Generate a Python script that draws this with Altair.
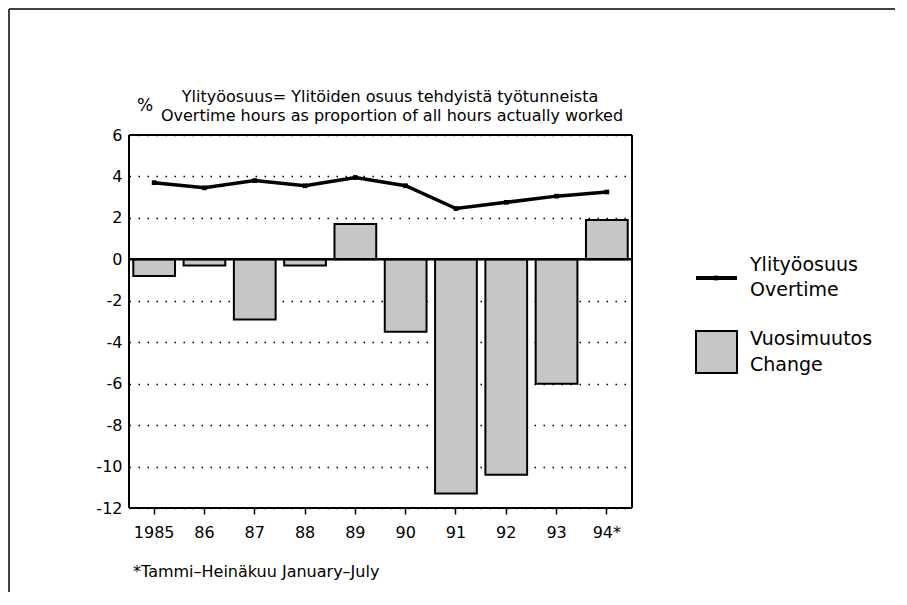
import altair as alt
import pandas as pd

years = ["1985", "86", "87", "88", "89", "90", "91", "92", "93", "94*"]
overtime = [3.7, 3.45, 3.8, 3.55, 3.95, 3.55, 2.45, 2.75, 3.05, 3.25]
change = [-0.8, -0.3, -2.9, -0.3, 1.7, -3.5, -11.3, -10.4, -6.0, 1.9]
y_ticks = [-12, -10, -8, -6, -4, -2, 0, 2, 4, 6]

title_fi = "Ylityöosuus= Ylitöiden osuus tehdyistä työtunneista"
title_en = "Overtime hours as proportion of all hours actually worked"
legend_line = ["Ylityöosuus", "Overtime"]
legend_bar = ["Vuosimuutos", "Change"]
footnote = "*Tammi\u2013Heinäkuu January\u2013July"

FONT = "DejaVu Sans"
GRAY = "#c6c6c6"
W, H = 503, 373

df = pd.DataFrame({"year": years, "overtime": overtime, "change": change})

xenc = alt.X("year:N", sort=years, title=None,
             scale=alt.Scale(paddingInner=0.17, paddingOuter=0.085),
             axis=alt.Axis(labelAngle=0, ticks=True, tickSize=6, tickWidth=1.5,
                           tickColor="black", domain=False, grid=False,
                           labelFont=FONT, labelFontSize=16, labelColor="black",
                           labelPadding=10))
yscale = alt.Scale(domain=[-12, 6], nice=False, zero=False)
yaxis = alt.Axis(values=y_ticks, grid=True, gridDash=[1.5, 7.5], gridColor="black",
                 gridWidth=1.5, ticks=False, domain=False, labelFont=FONT,
                 labelFontSize=16, labelColor="black", labelPadding=7, title=None,
                 labelExpr="'' + datum.value")

bars = alt.Chart(df).mark_bar(fill=GRAY, stroke="black", strokeWidth=2).encode(
    x=xenc,
    y=alt.Y("change:Q", scale=yscale, axis=yaxis),
)

one = alt.Data(values=[{}])

zero = alt.Chart(one).mark_rule(color="black", strokeWidth=2.5).encode(y=alt.datum(0))

# plot frame drawn as rules
frame_t = alt.Chart(one).mark_rule(color="black", strokeWidth=2).encode(
    x=alt.value(0), x2=alt.value(W), y=alt.value(0))
frame_r = alt.Chart(one).mark_rule(color="black", strokeWidth=2).encode(
    x=alt.value(W), y=alt.value(0), y2=alt.value(H))
frame_b = alt.Chart(one).mark_rule(color="black", strokeWidth=2).encode(
    x=alt.value(0), x2=alt.value(W), y=alt.value(H))
frame_l = alt.Chart(one).mark_rule(color="black", strokeWidth=2).encode(
    x=alt.value(0), y=alt.value(0), y2=alt.value(H))

line = alt.Chart(df).mark_line(color="black", strokeWidth=3.5).encode(
    x=alt.X("year:N", sort=years), y=alt.Y("overtime:Q", scale=yscale))
pts = alt.Chart(df).mark_point(shape="square", filled=True, color="black", size=22, opacity=1).encode(
    x=alt.X("year:N", sort=years), y=alt.Y("overtime:Q", scale=yscale))


def txt(text, x, y, size, align="left", baseline="middle"):
    return alt.Chart(one).mark_text(text=text, font=FONT, fontSize=size, align=align,
                                    baseline=baseline, color="black").encode(
        x=alt.value(x), y=alt.value(y))


texts = [
    txt(title_fi, 261, -33, 16, align="center", baseline="alphabetic"),
    txt(title_en, 263, -14, 16, align="center", baseline="alphabetic"),
    txt("%", 16, -24, 17, align="center", baseline="alphabetic"),
    txt(legend_line[0], 621, 130, 19),
    txt(legend_line[1], 621, 155, 19),
    txt(legend_bar[0], 621, 204, 19),
    txt(legend_bar[1], 621, 230, 19),
    txt(footnote, 4, 437, 16),
]

leg_line = alt.Chart(one).mark_rule(color="black", strokeWidth=4).encode(
    x=alt.value(567), x2=alt.value(608), y=alt.value(143))
leg_dot = alt.Chart(one).mark_point(shape="square", filled=True, color="black", size=22, opacity=1).encode(
    x=alt.value(587), y=alt.value(143))
leg_rect = alt.Chart(one).mark_rect(fill=GRAY, stroke="black", strokeWidth=2).encode(
    x=alt.value(567), x2=alt.value(608), y=alt.value(196), y2=alt.value(238))

# outer page frame (top and left edges only)
frame_top = alt.Chart(one).mark_rule(color="black", strokeWidth=1.5).encode(
    x=alt.value(-120), x2=alt.value(766), y=alt.value(-126))
frame_left = alt.Chart(one).mark_rule(color="black", strokeWidth=1.5).encode(
    x=alt.value(-120), y=alt.value(-126), y2=alt.value(460))

chart = alt.layer(
    bars, zero, line, pts, frame_t, frame_r, frame_b, frame_l,
    leg_line, leg_dot, leg_rect, frame_top, frame_left, *texts
).properties(
    width=W, height=H,
    autosize=alt.AutoSizeParams(type="none"),
    padding={"left": 121, "top": 127, "right": 266, "bottom": 84},
).configure(
    background="white"
).configure_view(
    strokeWidth=0
)

chart.save("out.html", embed_options={"renderer": "svg", "actions": False})
